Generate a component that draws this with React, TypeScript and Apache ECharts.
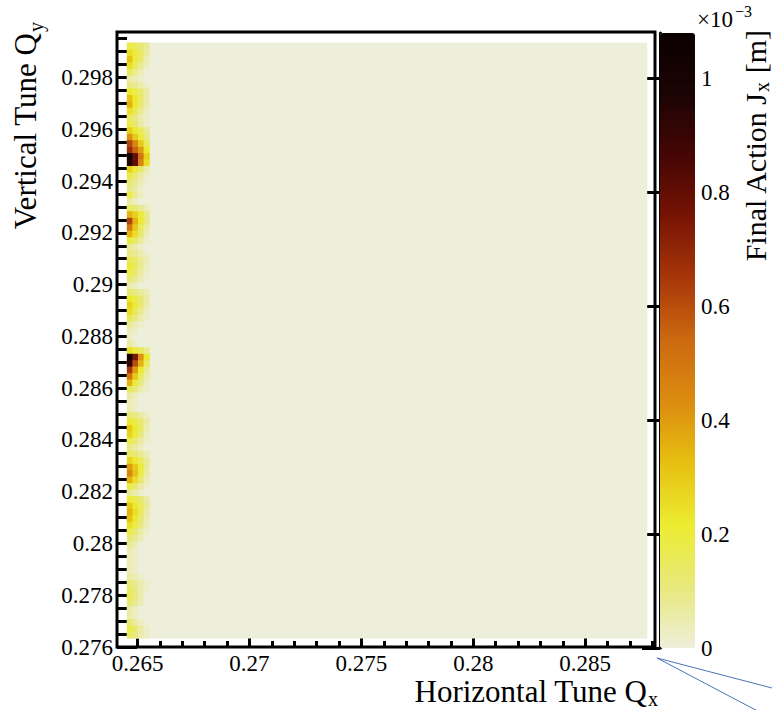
import React, { useEffect, useRef } from "react";
import * as echarts from "echarts";

// ---- axes ----
const qxAxisRange = [0.26408, 0.28812];
const qyAxisRange = [0.276, 0.29976];
const xMajorTicks = [0.265, 0.27, 0.275, 0.28, 0.285];
const xMinorTicks = [0.265, 0.266, 0.267, 0.268, 0.269, 0.27, 0.271, 0.272, 0.273, 0.274, 0.275, 0.276, 0.277, 0.278, 0.279, 0.28, 0.281, 0.282, 0.283, 0.284, 0.285, 0.286, 0.287, 0.288];
const yMajorTicks = [0.276, 0.278, 0.28, 0.282, 0.284, 0.286, 0.288, 0.29, 0.292, 0.294, 0.296, 0.298];
const yMinorTicks = [0.276, 0.2765, 0.277, 0.2775, 0.278, 0.2785, 0.279, 0.2795, 0.28, 0.2805, 0.281, 0.2815, 0.282, 0.2825, 0.283, 0.2835, 0.284, 0.2845, 0.285, 0.2855, 0.286, 0.2865, 0.287, 0.2875, 0.288, 0.2885, 0.289, 0.2895, 0.29, 0.2905, 0.291, 0.2915, 0.292, 0.2925, 0.293, 0.2935, 0.294, 0.2945, 0.295, 0.2955, 0.296, 0.2965, 0.297, 0.2975, 0.298, 0.2985, 0.299, 0.2995];
const cbTicks = [0, 0.2, 0.4, 0.6, 0.8, 1];
const cbRange = [0, 1.08]; // x 10^-3 m

// ---- tune scan extent (value ~0 everywhere except first Qx column) ----
const scanQx = [0.26452, 0.28775];
const scanQy = [0.27635, 0.29935];
const scanBackgroundJ = 0;

// first column of the scan, split into 4 sub-columns (left edges), rows of 0.00025 from scanQy[0]
const stripQx = [0.26452, 0.26477, 0.26502, 0.26527];
const stripCellW = 0.00025;
const stripCellH = 0.00025;
// Final action J_x [1e-3 m], bottom row first
const stripCol0 = [0.15, 0.18, 0.12, 0.05, 0.06, 0.12, 0.16, 0.15, 0.12, 0.06, 0.04, 0.04, 0.04, 0.05, 0.08, 0.12, 0.18, 0.25, 0.32, 0.35, 0.3, 0.2, 0.08, 0.18, 0.35, 0.45, 0.4, 0.28, 0.15, 0.1, 0.18, 0.28, 0.3, 0.22, 0.12, 0.05, 0.04, 0.06, 0.15, 0.35, 0.5, 0.65, 0.92, 1.02, 0.25, 0.06, 0.03, 0.04, 0.08, 0.16, 0.25, 0.28, 0.22, 0.12, 0.05, 0.12, 0.18, 0.2, 0.16, 0.1, 0.08, 0.2, 0.35, 0.5, 0.62, 0.35, 0.15, 0.06, 0.18, 0.1, 0.12, 0.18, 0.28, 0.95, 1.0, 0.68, 0.62, 0.42, 0.28, 0.18, 0.15, 0.25, 0.35, 0.32, 0.22, 0.1, 0.06, 0.15, 0.25, 0.32, 0.25, 0.18];
const stripCol1 = [0.1, 0.12, 0.06, 0.03, 0.03, 0.08, 0.1, 0.1, 0.08, 0.04, 0.02, 0.02, 0.02, 0.02, 0.04, 0.08, 0.12, 0.18, 0.22, 0.25, 0.22, 0.18, 0.05, 0.12, 0.25, 0.32, 0.3, 0.22, 0.12, 0.06, 0.12, 0.2, 0.22, 0.18, 0.1, 0.02, 0.02, 0.03, 0.1, 0.2, 0.3, 0.4, 0.6, 0.75, 0.2, 0.03, 0, 0.02, 0.04, 0.1, 0.16, 0.2, 0.18, 0.1, 0.03, 0.08, 0.12, 0.15, 0.13, 0.08, 0.05, 0.14, 0.25, 0.3, 0.35, 0.28, 0.12, 0.03, 0.08, 0.06, 0.08, 0.12, 0.2, 0.8, 0.8, 0.55, 0.45, 0.3, 0.22, 0.12, 0.1, 0.16, 0.22, 0.22, 0.18, 0.08, 0.04, 0.08, 0.15, 0.2, 0.2, 0.16];
const stripCol2 = [0.05, 0.06, 0.03, 0, 0, 0.04, 0.05, 0.05, 0.05, 0.02, 0, 0, 0, 0, 0, 0.04, 0.06, 0.1, 0.12, 0.15, 0.15, 0.12, 0.02, 0.06, 0.12, 0.18, 0.2, 0.15, 0.08, 0.03, 0.06, 0.1, 0.14, 0.12, 0.06, 0, 0, 0, 0.05, 0.1, 0.15, 0.22, 0.35, 0.42, 0.15, 0, 0, 0, 0.02, 0.05, 0.08, 0.12, 0.12, 0.07, 0, 0.04, 0.06, 0.08, 0.08, 0.05, 0.02, 0.07, 0.12, 0.15, 0.22, 0.2, 0.08, 0, 0.03, 0.02, 0.04, 0.06, 0.12, 0.45, 0.5, 0.4, 0.3, 0.2, 0.15, 0.06, 0.05, 0.08, 0.12, 0.14, 0.12, 0.05, 0.02, 0.04, 0.08, 0.12, 0.14, 0.12];
const stripCol3 = [0.02, 0.02, 0, 0, 0, 0, 0, 0.02, 0.02, 0, 0, 0, 0, 0, 0, 0, 0.02, 0.04, 0.05, 0.06, 0.08, 0.06, 0, 0.02, 0.04, 0.06, 0.08, 0.08, 0.04, 0, 0.02, 0.03, 0.05, 0.06, 0.03, 0, 0, 0, 0.02, 0.03, 0.05, 0.08, 0.15, 0.22, 0.08, 0, 0, 0, 0, 0.02, 0.03, 0.05, 0.06, 0.04, 0, 0.01, 0.02, 0.03, 0.04, 0.02, 0, 0.02, 0.04, 0.06, 0.1, 0.1, 0.04, 0, 0, 0, 0.01, 0.02, 0.05, 0.25, 0.28, 0.22, 0.15, 0.1, 0.08, 0.02, 0.02, 0.03, 0.05, 0.06, 0.06, 0.02, 0, 0, 0.03, 0.05, 0.07, 0.08];

// inverted black-body palette, from 0 to 1.08e-3
const paletteColors = ["#eeefda", "#e8e87c", "#ecec30", "#e6c010", "#dc8c10", "#cc6a10", "#a8380a", "#781404", "#460604", "#1c0404", "#0a0000"];

const FONT = "Liberation Serif";

function buildBackground() {
  return [[scanQx[0], scanQy[0], scanQx[1] - scanQx[0], scanQy[1] - scanQy[0], scanBackgroundJ]];
}

function buildStrip() {
  const cols = [stripCol0, stripCol1, stripCol2, stripCol3];
  const out: number[][] = [];
  cols.forEach((col, c) => {
    col.forEach((v, r) => {
      out.push([stripQx[c], scanQy[0] + r * stripCellH, stripCellW, stripCellH, v]);
    });
  });
  return out;
}

const renderCell = (params: any, api: any) => {
  const x0 = api.value(0);
  const y0 = api.value(1);
  const w = api.value(2);
  const h = api.value(3);
  const a = api.coord([x0, y0 + h]);
  const b = api.coord([x0 + w, y0]);
  return {
    type: "rect",
    shape: { x: a[0], y: a[1], width: b[0] - a[0] + 0.5, height: b[1] - a[1] + 0.5 },
    style: { fill: api.visual("color") },
  };
};

function txt(x: number, y: number, text: string, size: number, align: string, rot = 0) {
  return {
    type: "text", x, y, rotation: rot, z: 100,
    style: { text, fontFamily: FONT, fontSize: size, fill: "#000", align, verticalAlign: "middle" },
  };
}

export default function App() {
  const ref = useRef<HTMLDivElement>(null);
  useEffect(() => {
    if (!ref.current) return;
    const chart = echarts.init(ref.current, undefined, { renderer: "svg" });
    const tickLabel = { color: "#000", fontFamily: FONT, fontSize: 23 };
    const R = Math.PI / 2;
    const option: any = {
      animation: false,
      backgroundColor: "#ffffff",
      grid: [
        { left: 117, top: 32, width: 538, height: 615, show: true, borderColor: "#000", borderWidth: 3, backgroundColor: "transparent" },
        { left: 660, top: 33, width: 36, height: 615, show: false },
      ],
      xAxis: [
        {
          type: "value", gridIndex: 0, position: "bottom", min: qxAxisRange[0], max: qxAxisRange[1],
          axisLine: { show: false }, splitLine: { show: false },
          axisTick: { show: true, inside: true, length: 12, customValues: xMajorTicks, lineStyle: { color: "#000", width: 3 } },
          axisLabel: { show: true, customValues: xMajorTicks, margin: 5, ...tickLabel, formatter: (v: number) => String(+v.toFixed(4)) },
        },
        {
          type: "value", gridIndex: 0, position: "bottom", min: qxAxisRange[0], max: qxAxisRange[1],
          axisLine: { show: false }, splitLine: { show: false },
          axisTick: { show: true, inside: true, length: 6, customValues: xMinorTicks, lineStyle: { color: "#000", width: 3 } },
          axisLabel: { show: false },
        },
        { type: "value", gridIndex: 1, min: 0, max: 1, show: false },
      ],
      yAxis: [
        {
          type: "value", gridIndex: 0, position: "left", min: qyAxisRange[0], max: qyAxisRange[1],
          axisLine: { show: false }, splitLine: { show: false },
          axisTick: { show: true, inside: true, length: 20, customValues: yMajorTicks, lineStyle: { color: "#000", width: 3 } },
          axisLabel: { show: true, customValues: yMajorTicks, margin: 4, ...tickLabel, formatter: (v: number) => String(+v.toFixed(4)) },
        },
        {
          type: "value", gridIndex: 0, position: "left", min: qyAxisRange[0], max: qyAxisRange[1],
          axisLine: { show: false }, splitLine: { show: false },
          axisTick: { show: true, inside: true, length: 10, customValues: yMinorTicks, lineStyle: { color: "#000", width: 3 } },
          axisLabel: { show: false },
        },
        {
          type: "value", gridIndex: 1, position: "right", min: cbRange[0], max: cbRange[1],
          axisLine: { show: true, lineStyle: { color: "#000", width: 3 } }, splitLine: { show: false },
          axisTick: { show: true, inside: true, length: 18, customValues: cbTicks, lineStyle: { color: "#000", width: 3 } },
          axisLabel: { show: true, customValues: cbTicks, margin: 5, ...tickLabel, formatter: (v: number) => String(+v.toFixed(2)) },
        },
      ],
      visualMap: {
        type: "continuous",
        min: cbRange[0],
        max: cbRange[1],
        dimension: 4,
        seriesIndex: [0, 1],
        calculable: false,
        orient: "vertical",
        left: 660,
        top: 33,
        padding: 0,
        itemWidth: 35,
        itemHeight: 615,
        inRange: { color: paletteColors },
        text: null,
        show: true,
      },
      series: [
        {
          type: "custom", xAxisIndex: 0, yAxisIndex: 0, renderItem: renderCell, clip: true,
          dimensions: ["qx", "qy", "w", "h", "J"], encode: { x: 0, y: 1 },
          data: buildBackground(), silent: true,
        },
        {
          type: "custom", xAxisIndex: 0, yAxisIndex: 0, renderItem: renderCell, clip: true,
          dimensions: ["qx", "qy", "w", "h", "J"], encode: { x: 0, y: 1 },
          data: buildStrip(), silent: true,
        },
        { type: "scatter", xAxisIndex: 2, yAxisIndex: 2, data: [] },
      ],
      graphic: [
        txt(647, 691, "Horizontal Tune Q", 31, "right"),
        txt(648, 699, "x", 20, "left"),
        txt(25, 33, "Vertical Tune Q", 31, "right", R),
        txt(36, 32, "y", 20, "left", R),
        txt(755, 93, "Final Action J", 30, "right", R),
        txt(762, 92, "x", 20, "left", R),
        txt(755, 30, "[m]", 30, "right", R),
        txt(697, 19, "×10", 23, "left"),
        txt(735, 11, "−3", 16, "left"),
        { type: "line", z: 100, shape: { x1: 657, y1: 658, x2: 772, y2: 688 }, style: { stroke: "#4a74b8", lineWidth: 1 } },
        { type: "line", z: 100, shape: { x1: 657, y1: 658, x2: 772, y2: 718.6 }, style: { stroke: "#4a74b8", lineWidth: 1 } },
      ],
    };
    chart.setOption(option);
    return () => chart.dispose();
  }, []);
  return <div ref={ref} style={{ position: "fixed", left: 0, top: 0, width: 772, height: 710 }} />;
}
